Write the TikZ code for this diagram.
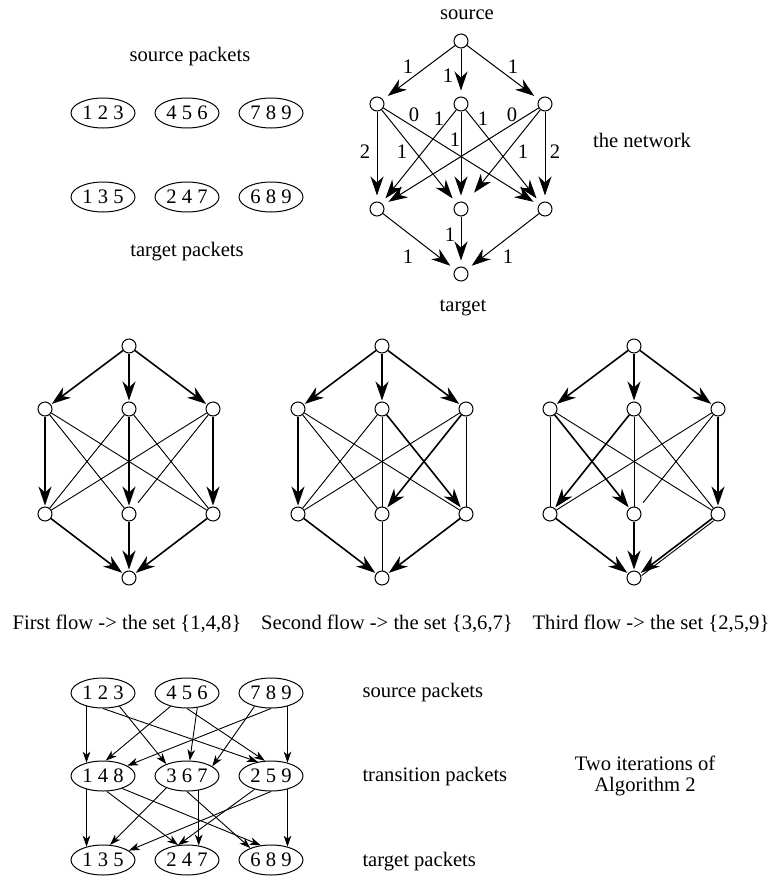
\documentclass[tikz,border=0pt]{standalone}
\usepackage{fontspec}
\setmainfont{Liberation Serif}
\usetikzlibrary{arrows.meta,shapes.geometric}

\tikzset{
  dot/.style={circle, draw, inner sep=0pt, minimum size=7pt},
  pkt/.style={ellipse, draw, inner sep=0pt, minimum width=32pt, minimum height=15pt},
  txt/.style={inner sep=0pt},
  big/.style={-{Stealth[length=9.5pt,width=6.5pt,inset=3pt]}, shorten >=3pt},
  flow/.style={line width=0.8pt, -{Stealth[length=9.5pt,width=6.5pt,inset=3pt]}, shorten >=0.5pt},
  link/.style={line width=0.45pt},
  gap/.style={line width=0.45pt, shorten >=3.5pt},
  small/.style={-{Stealth[length=5.5pt,width=3.8pt,inset=1.6pt]}, line width=0.45pt},
}

\begin{document}
\begin{tikzpicture}[x=0.5pt, y=-0.5pt, line width=0.5pt, font=\fontsize{10.3}{12.4}\selectfont]
\useasboundingbox (0,0) rectangle (772,878);

% packets of the example
\node[txt] (sp) at (190,57) {source packets};
\node[txt] (tp) at (187,252) {target packets};
\foreach \t/\u/\x [count=\i] in {1 2 3/1 3 5/103, 4 5 6/2 4 7/187, 7 8 9/6 8 9/271} {
  \node[pkt] (p\i) at (\x,113) {\t};
  \node[pkt] (q\i) at (\x,197) {\u};
}

% the network with its capacities
\node[dot] (s) at (461,41) {};
\foreach \i/\x in {1/377,2/461,3/545} {
  \node[dot] (a\i) at (\x,104) {};
  \node[dot] (b\i) at (\x,209) {};
}
\node[dot] (t) at (461,274) {};
\node[txt] (src) at (467,15) {source};
\node[txt] (tgt) at (463,308) {target};
\node[txt] (net) at (642,140) {the network};
\foreach \i in {1,2,3} {
  \draw[big] (s) -- (a\i);
  \draw[big] (b\i) -- (t);
}
\foreach \i/\j in {1/1,1/2,1/3,2/1,2/2,2/3,3/1,3/3}
  \draw[big] (a\i) -- (b\j);
\draw[big, shorten >=6.7pt] (a3) -- (b2);
\foreach \x/\y/\w [count=\k] in {408/67/1, 448/76/1, 513/67/1, 414/115/0, 439/119/1,
    483/119/1, 512/115/0, 365/152/2, 402/152/1, 455/140/1, 523/152/1, 555/152/2,
    450/235/1, 408/257/1, 508/257/1}
  \node[txt] (w\k) at (\x,\y) {\w};

% the three flows
\foreach \n/\x in {1/129,2/382,3/634} {
  \node[dot] (fs\n) at (\x,346) {};
  \foreach \i/\dx in {1/-84,2/0,3/84} {
    \node[dot] (fa\n-\i) at (\x+\dx,409) {};
    \node[dot] (fb\n-\i) at (\x+\dx,514) {};
  }
  \node[dot] (ft\n) at (\x,578) {};
  \foreach \i in {1,2,3}
    \draw[flow] (fs\n) -- (fa\n-\i);
}
\node[txt] (c1) at (127,624) {First flow -> the set \{1,4,8\}};
\node[txt] (c2) at (387,624) {Second flow -> the set \{3,6,7\}};
\node[txt] (c3) at (651,624) {Third flow -> the set \{2,5,9\}};

\foreach \i/\j/\st in {1/1/flow,1/2/link,1/3/link,2/1/link,2/2/flow,2/3/link,3/1/link,3/2/gap,3/3/flow}
  \draw[\st] (fa1-\i) -- (fb1-\j);
\foreach \j/\st in {1/flow,2/flow,3/flow}
  \draw[\st] (fb1-\j) -- (ft1);

\foreach \i/\j/\st in {1/1/flow,1/2/link,1/3/link,2/1/link,2/2/link,2/3/flow,3/1/link,3/2/flow,3/3/link}
  \draw[\st] (fa2-\i) -- (fb2-\j);
\foreach \j/\st in {1/flow,2/link,3/flow}
  \draw[\st] (fb2-\j) -- (ft2);

\foreach \i/\j/\st in {1/1/link,1/2/flow,1/3/link,2/1/flow,2/2/link,2/3/link,3/1/link,3/2/gap,3/3/flow}
  \draw[\st] (fa3-\i) -- (fb3-\j);
\foreach \j/\st in {1/flow,2/flow,3/flow}
  \draw[\st] (fb3-\j) -- (ft3);
\draw[link] ([xshift=0.8pt,yshift=-0.9pt]fb3-3.220) -- ([xshift=0.8pt,yshift=-0.9pt]ft3.35);

% two iterations
\foreach \d/\t/\x in {123/1 2 3/103, 456/4 5 6/187, 789/7 8 9/271}
  \node[pkt] (s\d) at (\x,693) {\t};
\foreach \d/\t/\x in {148/1 4 8/103, 367/3 6 7/187, 259/2 5 9/271}
  \node[pkt] (m\d) at (\x,776) {\t};
\foreach \d/\t/\x in {135/1 3 5/103, 247/2 4 7/187, 689/6 8 9/271}
  \node[pkt] (t\d) at (\x,860) {\t};
\foreach \a/\b in {s123.219/m148.141, s123.270/m259.133, s123.321/m367.150,
    s456.219/m148.80, s456.270/m259.112, s456.305/m367.80,
    s789.219/m367.21, s789.270/m148.23, s789.321/m259.39,
    m148.219/t135.141, m148.284/t247.121, m148.327/t689.125,
    m367.210/t135.65, m367.270/t689.150, m367.309/t247.51,
    m259.219/t247.121, m259.270/t135.20, m259.321/t689.39}
  \draw[small] (\a) -- (\b);
\node[txt, anchor=west] (ls) at (362,693) {source packets};
\node[txt, anchor=west] (lm) at (362,777) {transition packets};
\node[txt, anchor=west] (lt) at (362,862) {target packets};
\node[txt, align=center, font=\fontsize{10.3}{10.9}\selectfont] (alg) at (645,776) {Two iterations of\\Algorithm 2};
\end{tikzpicture}
\end{document}
